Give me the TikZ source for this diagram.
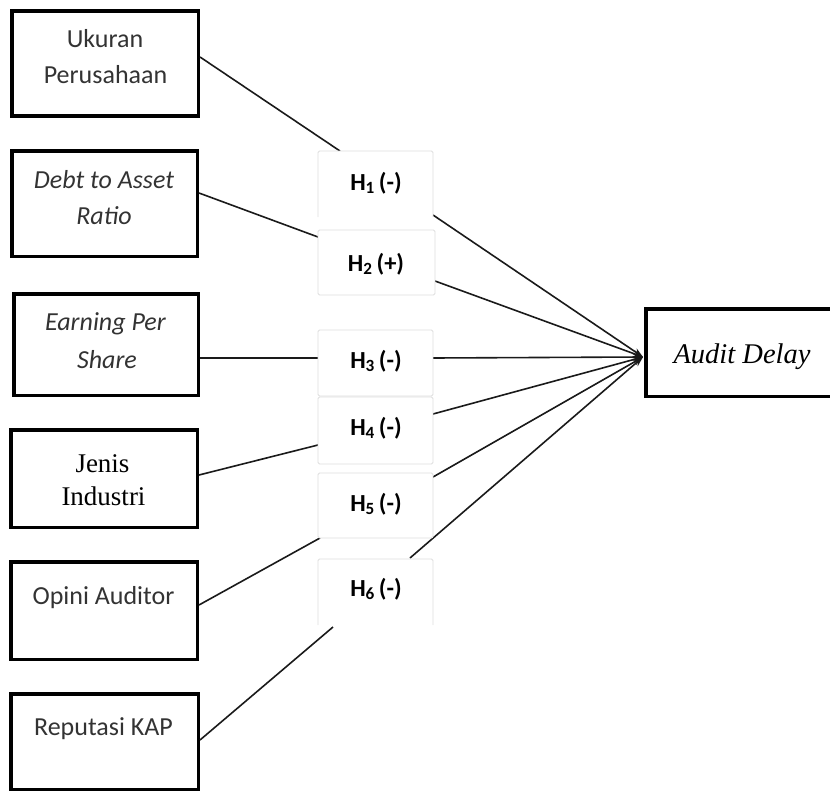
\documentclass[tikz,border=0pt]{standalone}
\usepackage{fontspec}
\setmainfont{Carlito}
\newfontfamily\seriffont{Liberation Serif}
\usetikzlibrary{arrows.meta}
\definecolor{txtgray}{HTML}{333333}
\definecolor{hborder}{HTML}{DDDDDD}
\definecolor{linecol}{HTML}{1A1A1A}
\tikzset{
  vbox/.style={draw=black, line width=3.5pt, rectangle, inner sep=0pt, outer sep=0pt},
  hbox/.style={fill=white, rectangle, inner sep=0pt, outer sep=0pt, minimum width=115pt},
  hline/.style={draw=hborder, line width=0.9pt, rounded corners=1.5pt},
  vtext/.style={anchor=base, inner sep=0pt, text=txtgray, font=\fontsize{26}{30}\selectfont},
  vitext/.style={vtext, font=\fontsize{26}{30}\selectfont\itshape},
  stext/.style={anchor=base, inner sep=0pt, text=black, font=\fontsize{27}{30}\selectfont\seriffont},
  htext/.style={anchor=base, inner sep=0pt, text=black, font=\fontsize{24.5}{28}\selectfont\bfseries},
  conn/.style={draw=linecol, line width=1.6pt},
  arr/.style={conn, -{Stealth[length=10pt,width=7pt]}},
}
\begin{document}
\begin{tikzpicture}[x=1pt, y=-1pt]
\useasboundingbox (0,0) rectangle (830,790);
\clip (0,0) rectangle (830,790);

% variable boxes
\node[vbox, minimum width=186.5pt, minimum height=105pt] (b1) at (105,63.5) {};
\node[vbox, minimum width=185.5pt, minimum height=105.5pt] (b2) at (104.5,203.5) {};
\node[vbox, minimum width=184.5pt, minimum height=101.5pt] (b3) at (106,344.5) {};
\node[vbox, minimum width=186.5pt, minimum height=97.5pt] (b4) at (104,478.5) {};
\node[vbox, minimum width=186.5pt, minimum height=97.5pt] (b5) at (104,610.5) {};
\node[vbox, minimum width=187.5pt, minimum height=96pt] (b6) at (104.5,741.75) {};

% texts
\node[vtext] (t1a) at (105,47) {Ukuran};
\node[vtext] (t1b) at (105.5,83) {Perusahaan};
\node[vitext] (t2a) at (104,188) {Debt to Asset};
\node[vitext] (t2b) at (104,224) {Ratio};
\node[vitext] (t3a) at (105.5,330) {Earning Per};
\node[vitext] (t3b) at (107,368) {Share};
\node[stext] (t4a) at (102.5,472) {Jenis};
\node[stext] (t4b) at (103.5,505) {Industri};
\node[vtext] (t5) at (103.5,604) {Opini Auditor};
\node[vtext] (t6) at (103.5,735) {Reputasi KAP};

% dependent variable
\node[vbox, minimum width=199.25pt, minimum height=87.5pt] (ad) at (745.4,352.5) {};
\node[anchor=base, inner sep=0pt, font=\fontsize{28.5}{32}\selectfont\seriffont\itshape] (adt) at (742,363) {Audit Delay};
\coordinate (tip) at (643,357);

% connector end points on borders
\coordinate (s1) at (200,57);   \coordinate (e1) at (340,151);
\coordinate (o1) at (433,215);
\coordinate (s2) at (199,193);  \coordinate (e2) at (318,237);
\coordinate (o2) at (435,281);
\coordinate (s3) at (200,358);  \coordinate (e3) at (318,358);
\coordinate (o3) at (433,358);
\coordinate (s4) at (199,475);  \coordinate (e4) at (318,445);
\coordinate (o4) at (433,414);
\coordinate (s5) at (199,605);  \coordinate (e5) at (320,538);
\coordinate (o5) at (433,477);
\coordinate (s6) at (200,740);  \coordinate (e6) at (333,627);
\coordinate (o6) at (410,558);

\draw[conn] (s1) -- (e1);
\draw[conn] (s2) -- (e2);
\draw[conn] (s3) -- (e3);
\draw[conn] (s4) -- (e4);
\draw[conn] (s5) -- (e5);
\draw[conn] (s6) -- (e6);
\draw[arr] (o1) -- (tip);
\draw[arr] (o2) -- (tip);
\draw[arr] (o3) -- (tip);
\draw[arr] (o4) -- (tip);
\draw[arr] (o5) -- (tip);
\draw[arr] (o6) -- (tip);

% hypothesis boxes
\node[hbox, minimum height=66pt] (h1) at (375.5,184) {};
\draw[hline] (h1.south west) -- (h1.north west) -- (h1.north east) -- (h1.south east);
\node[hbox, minimum width=117pt, minimum height=65pt] (h2) at (376.5,262.5) {};
\draw[hline] (h2.south west) rectangle (h2.north east);
\node[hbox, minimum height=66pt] (h3) at (375.5,363) {};
\draw[hline] (h3.south west) rectangle (h3.north east);
\node[hbox, minimum height=67pt] (h4) at (375.5,430.5) {};
\draw[hline] (h4.south west) rectangle (h4.north east);
\node[hbox, minimum height=65pt] (h5) at (375.5,505.5) {};
\draw[hline] (h5.south west) rectangle (h5.north east);
\node[hbox, minimum height=66pt] (h6) at (375.5,592) {};
\draw[hline] (h6.south west) -- (h6.north west) -- (h6.north east) -- (h6.south east);

\node[htext] (l1) at (376,190) {H\textsubscript{1}\,(-)};
\node[htext] (l2) at (376,271) {H\textsubscript{2}\,(+)};
\node[htext] (l3) at (376,368) {H\textsubscript{3}\,(-)};
\node[htext] (l4) at (376,435) {H\textsubscript{4}\,(-)};
\node[htext] (l5) at (376,511) {H\textsubscript{5}\,(-)};
\node[htext] (l6) at (376,596) {H\textsubscript{6}\,(-)};
\end{tikzpicture}
\end{document}
